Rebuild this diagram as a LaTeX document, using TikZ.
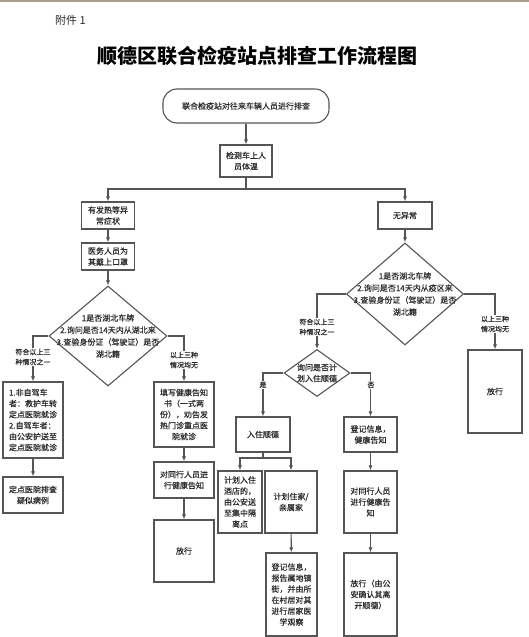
\documentclass[tikz,border=0pt]{standalone}
\usepackage{fontspec}
\setmainfont{Noto Sans CJK SC}
\newfontfamily\bxfont[FakeBold=0.4]{Noto Sans CJK SC}
\usetikzlibrary{shapes.geometric,arrows.meta}
\definecolor{lc}{HTML}{555555}
\definecolor{tc}{HTML}{2A2A2A}
\definecolor{topc}{HTML}{A8A08C}
\begin{document}
\begin{tikzpicture}[x=1pt,y=-1pt,
  bx/.style={draw=lc,line width=1.1pt,fill=white,text=tc,font=\bxfont\fontsize{8}{11}\selectfont,align=center,inner sep=1pt},
  dm/.style={draw=lc,line width=1.1pt,diamond,inner sep=0pt,fill=white},
  dtext/.style={text=tc,font=\bxfont\fontsize{8}{12}\selectfont,align=center,inner sep=0pt},
  lbl/.style={fill=white,text=tc,font=\bxfont\fontsize{7}{10}\selectfont,align=center,inner sep=1pt},
  ln/.style={draw=lc,line width=1.1pt},
  arr/.style={ln,-{Latex[length=5pt,width=4pt]}}]
\useasboundingbox[fill=white] (0,0) rectangle (529,637);
\draw[topc,line width=1.5pt] (0,0.75) -- (529,0.75);

% header
\node[font=\fontsize{11}{13}\selectfont,anchor=west,text=tc,inner sep=0pt] (att) at (55,20) {附件 1};
\node[font=\bfseries\fontsize{20}{24}\selectfont,text=black] (title) at (257,56) {顺德区联合检疫站点排查工作流程图};

% top part
\node[bx,rounded corners=14pt,minimum width=166pt,minimum height=34pt] (start) at (246,106) {联合检疫站对往来车辆人员进行排查};
\node[bx,minimum width=52pt,minimum height=32pt] (chk) at (246,161) {检测车上人\\员体温};
\coordinate (sp) at (246,189);

% left column
\node[bx,minimum width=53pt,minimum height=27pt] (fever) at (108,215.5) {有发热等异\\常症状};
\node[bx,minimum width=53pt,minimum height=27pt] (mask) at (108,256.5) {医务人员为\\其戴上口罩};
\node[dm,minimum width=118pt,minimum height=100pt] (d1) at (108,336) {};
\node[dtext] (d1t) at (d1.center) {1是否湖北车牌\\2.询问是否14天内从湖北来\\3.查验身份证（驾驶证）是否\\湖北籍};

\node[bx,minimum width=60pt,minimum height=76pt,align=left] (sev) at (33,420) {1.非自驾车\\者：救护车转\\定点医院就诊\\2.自驾车者：\\由公安护送至\\定点医院就诊};
\node[bx,minimum width=60pt,minimum height=36pt] (hosp) at (33,495) {定点医院排查\\疑似病例};

\node[bx,minimum width=60pt,minimum height=65pt] (form) at (184,414.5) {填写健康告知\\书（一式两\\份），劝告发\\热门诊重点医\\院就诊};
\node[bx,minimum width=60pt,minimum height=36pt] (tell1) at (184,480) {对同行人员进\\行健康告知};
\node[bx,minimum width=60pt,minimum height=62pt] (rel1) at (184,551) {放行};

% right column
\node[bx,minimum width=54pt,minimum height=27pt] (noab) at (405,215.5) {无异常};
\node[dm,minimum width=117pt,minimum height=102pt] (d2) at (405,294) {};
\node[dtext] (d2t) at (d2.center) {1是否湖北车牌\\2.询问是否14天内从疫区来\\3.查验身份证（驾驶证）是否\\湖北籍};

\node[dm,minimum width=66pt,minimum height=47pt] (d3) at (317,373) {};
\node[dtext,font=\bxfont\fontsize{8}{11}\selectfont] (d3t) at (d3.center) {询问是否计\\划入住顺德};

\node[bx,minimum width=54pt,minimum height=35pt] (stay) at (263,434.5) {入住顺德};
\node[bx,minimum width=53pt,minimum height=35pt] (reg) at (370.5,434.5) {登记信息，\\健康告知};
\node[bx,minimum width=44pt,minimum height=62pt] (hotel) at (240,502) {计划入住\\酒店的，\\由公安送\\至集中隔\\离点};
\node[bx,minimum width=52pt,minimum height=62pt] (home) at (291,502) {计划住家/\\亲属家};
\node[bx,minimum width=51pt,minimum height=83pt] (obs) at (291.5,594.5) {登记信息，\\报告属地镇\\街，并由所\\在村居对其\\进行居家医\\学观察};
\node[bx,minimum width=53pt,minimum height=62pt] (tell2) at (370.5,502) {对同行人员\\进行健康告\\知};
\node[bx,minimum width=53pt,minimum height=83pt] (rel2) at (370.5,594.5) {放行（由公\\安确认其离\\开顺德）};
\node[bx,minimum width=54pt,minimum height=83pt] (rel3) at (495,391.5) {放行};

% connectors
\draw[arr] (start) -- (chk);
\draw[ln] (chk) -- (sp);
\draw[arr] (sp) -| (fever.north);
\draw[arr] (sp) -| (noab.north);
\draw[arr] (fever) -- (mask);
\draw[arr] (mask) -- (d1.north);
\draw[arr] (d1.west) -| (sev.north);
\node[lbl] (l1) at (33,357) {符合以上三\\种情况之一};
\draw[arr] (d1.east) -| (form.north);
\node[lbl] (l2) at (184,360) {以上三种\\情况均无};
\draw[arr] (sev) -- (hosp);
\draw[arr] (form) -- (tell1);
\draw[arr] (tell1) -- (rel1);

\draw[arr] (noab) -- (d2.north);
\draw[arr] (d2.west) -| (d3.north);
\node[lbl] (l3) at (317,327) {符合以上三\\种情况之一};
\draw[arr] (d2.east) -| (rel3.north);
\node[lbl] (l4) at (495,324) {以上三种\\情况均无};
\draw[arr] (d3.west) -| (stay.north);
\node[lbl] (l5) at (263,385) {是};
\draw[arr] (d3.east) -| (reg.north);
\node[lbl] (l6) at (371,385) {否};
\coordinate (sp2) at (263,458);
\draw[ln] (stay) -- (sp2);
\draw[arr] (sp2) -| (hotel.north);
\draw[arr] (sp2) -| (home.north);
\draw[arr] (home) -- (obs);
\draw[arr] (reg) -- (tell2);
\draw[arr] (tell2) -- (rel2);
\end{tikzpicture}
\end{document}
